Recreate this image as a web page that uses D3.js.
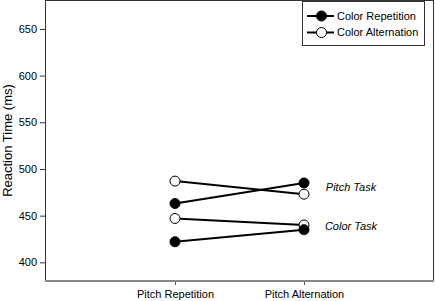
<!DOCTYPE html>
<html>
<head>
<meta charset="utf-8">
<script src="https://cdn.jsdelivr.net/npm/d3@7"></script>
<style>
  body { margin: 0; background: #fff; }
  text { font-family: "Liberation Sans", Arial, sans-serif; }
</style>
</head>
<body>
<div id="chart"></div>
<script>
// data
const conditions = ["Pitch Repetition", "Pitch Alternation"];
const yTicks = [400, 450, 500, 550, 600, 650];
const pitchColorRep = [463, 485];
const pitchColorAlt = [487, 473];
const colorColorRep = [422, 435];
const colorColorAlt = [447, 440];
const taskLabels = ["Pitch Task", "Color Task"];
const taskLabelValues = [480, 439];

const series = [
    { values: colorColorAlt, filled: false },
    { values: pitchColorAlt, filled: false },
    { values: colorColorRep, filled: true },
    { values: pitchColorRep, filled: true }
];

const margin = { top: 0, right: 1, bottom: 20, left: 45 };
const width = 435 - margin.left - margin.right;
const height = 301 - margin.top - margin.bottom;

const svg = d3.select("#chart")
    .append("svg")
    .attr("width", 435)
    .attr("height", 301)
    .append("g")
    .attr("transform", `translate(${margin.left}, ${margin.top})`);

const xScale = d3.scalePoint()
    .domain(conditions)
    .range([130, 259]);

const yScale = d3.scaleLinear()
    .domain([380, 681])
    .range([height, 0]);

// frame
svg.append("rect")
    .attr("x", 0.5).attr("y", 0.5)
    .attr("width", width - 1).attr("height", height)
    .attr("fill", "none")
    .attr("stroke", "#333");

// y axis
const yAxis = svg.append("g")
    .call(d3.axisLeft(yScale).tickValues(yTicks).tickSize(5).tickPadding(3))
    .call(g => g.select(".domain").remove());
yAxis.selectAll("line").attr("stroke", "#333");
yAxis.selectAll("text").attr("font-size", 11).attr("fill", "#000")
    .style("font-family", "Liberation Sans, Arial, sans-serif");

// x axis
const xAxis = svg.append("g")
    .attr("transform", `translate(0, ${height})`)
    .call(d3.axisBottom(xScale).tickSize(4).tickPadding(5))
    .call(g => g.select(".domain").remove());
xAxis.selectAll("line").attr("stroke", "#555");
xAxis.selectAll("text").attr("font-size", 11).attr("fill", "#000")
    .style("font-family", "Liberation Sans, Arial, sans-serif");

svg.append("line")
    .attr("x1", 0).attr("x2", width)
    .attr("y1", height).attr("y2", height)
    .attr("stroke", "#888")
    .attr("stroke-width", 2);

// axis title
svg.append("text")
    .attr("transform", `translate(-33, ${height / 2}) rotate(-90)`)
    .attr("text-anchor", "middle")
    .attr("font-size", 13)
    .text("Reaction Time (ms)");

// lines and markers
const line = d3.line()
    .x((d, i) => xScale(conditions[i]))
    .y(d => yScale(d));

series.forEach(s => {
    svg.append("path")
        .datum(s.values)
        .attr("d", line)
        .attr("fill", "none")
        .attr("stroke", "#000")
        .attr("stroke-width", 2);
});

series.forEach(s => {
    svg.selectAll(null)
        .data(s.values)
        .enter()
        .append("circle")
        .attr("cx", (d, i) => xScale(conditions[i]))
        .attr("cy", d => yScale(d))
        .attr("r", 5)
        .attr("fill", s.filled ? "#000" : "#fff")
        .attr("stroke", "#000")
        .attr("stroke-width", 1);
});

// task labels
svg.selectAll(".task")
    .data(taskLabels)
    .enter()
    .append("text")
    .attr("x", 306)
    .attr("y", (d, i) => yScale(taskLabelValues[i]))
    .attr("dy", "0.35em")
    .attr("text-anchor", "middle")
    .attr("font-size", 11)
    .attr("font-style", "italic")
    .text(d => d);

// legend
const legend = svg.append("g").attr("transform", "translate(257, 0)");
legend.append("rect")
    .attr("x", 0.5).attr("y", 1.5)
    .attr("width", 122).attr("height", 44)
    .attr("fill", "#fff")
    .attr("stroke", "#333");

const legendItems = [
    { label: "Color Repetition", filled: true },
    { label: "Color Alternation", filled: false }
];
legendItems.forEach((item, i) => {
    const y = 16 + i * 16.5;
    legend.append("line")
        .attr("x1", 5).attr("x2", 32)
        .attr("y1", y).attr("y2", y)
        .attr("stroke", "#000").attr("stroke-width", 2);
    legend.append("circle")
        .attr("cx", 19.5).attr("cy", y).attr("r", 5)
        .attr("fill", item.filled ? "#000" : "#fff")
        .attr("stroke", "#000");
    legend.append("text")
        .attr("x", 35).attr("y", y)
        .attr("dy", "0.35em")
        .attr("font-size", 11)
        .text(item.label);
});
</script>
</body>
</html>
